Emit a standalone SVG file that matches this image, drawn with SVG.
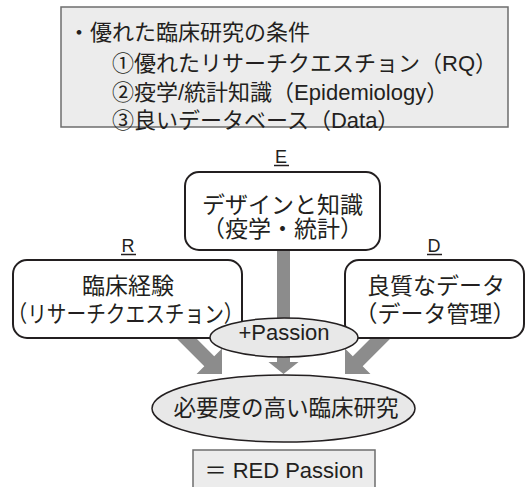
<svg xmlns="http://www.w3.org/2000/svg" width="526" height="487" viewBox="0 0 526 487">
<style>
text{font-family:"Liberation Sans","Noto Sans CJK JP",sans-serif;fill:#231f20}
.t22{font-size:22px}
.t23{font-size:23px;text-anchor:middle}
.lbl{font-size:18px;text-anchor:middle}
.box{fill:#fff;stroke:#231f20;stroke-width:2}
.ell{fill:#e8e8e8;stroke:#231f20;stroke-width:1.5}
.note{fill:#ececec;stroke:#6d6d6d;stroke-width:1.5}
.arr{fill:#8c8c8c}
.ul{stroke:#231f20;stroke-width:1.5}
</style>
<g id="conditions">
<rect class="note" x="61" y="7" width="447" height="120"/>
<text class="t22" x="68" y="40">・優れた臨床研究の条件</text>
<text class="t22" x="112" y="71">①優れたリサーチクエスチョン（RQ）</text>
<text class="t22" x="112" y="100">②疫学/統計知識（Epidemiology）</text>
<text class="t22" x="112" y="128">③良いデータベース（Data）</text>
</g>
<g id="connectors">
<polygon class="arr" points="154.95,297.05 214.22,356.32 222,348.54 222,374 196.54,374 204.32,366.22 145.05,306.95"/>
<polygon class="arr" points="412.05,297.05 352.78,356.32 345,348.54 345,374 370.46,374 362.68,366.22 421.95,306.95"/>
<polygon class="arr" points="277,240 290,240 290,362 298.5,362 283.5,374 268.5,362 277,362"/>
</g>
<g id="node-E">
<text class="lbl" x="281" y="163">E</text>
<line class="ul" x1="274" y1="165.5" x2="289" y2="165.5"/>
<rect class="box" x="185" y="172" width="195" height="78" rx="14"/>
<text class="t23" x="282.5" y="213">デザインと知識</text>
<text class="t23" x="282.5" y="237">（疫学・統計）</text>
</g>
<g id="node-R">
<text class="lbl" x="128" y="252">R</text>
<line class="ul" x1="121" y1="254.5" x2="136" y2="254.5"/>
<rect class="box" x="13" y="260" width="229" height="78" rx="14"/>
<text class="t23" x="128" y="294">臨床経験</text>
<text class="t23" x="125.5" y="322" textLength="236" lengthAdjust="spacingAndGlyphs">（リサーチクエスチョン）</text>
</g>
<g id="node-D">
<text class="lbl" x="434" y="252">D</text>
<line class="ul" x1="427" y1="254.5" x2="442" y2="254.5"/>
<rect class="box" x="345" y="260" width="179" height="78" rx="14"/>
<text class="t23" x="436" y="294">良質なデータ</text>
<text class="t23" x="435" y="322">（データ管理）</text>
</g>
<g id="node-passion">
<ellipse class="ell" cx="284" cy="337.5" rx="74" ry="19.5"/>
<text x="284" y="340" style="font-size:22px;text-anchor:middle">+Passion</text>
</g>
<g id="node-result">
<ellipse class="ell" cx="283.5" cy="408.5" rx="131.5" ry="33.5"/>
<text x="286" y="416" style="font-size:22.5px;text-anchor:middle">必要度の高い臨床研究</text>
</g>
<g id="node-red">
<rect class="note" x="193" y="450" width="182" height="45"/>
<text x="284" y="478" style="font-size:22px;text-anchor:middle">＝ RED Passion</text>
</g>
</svg>
